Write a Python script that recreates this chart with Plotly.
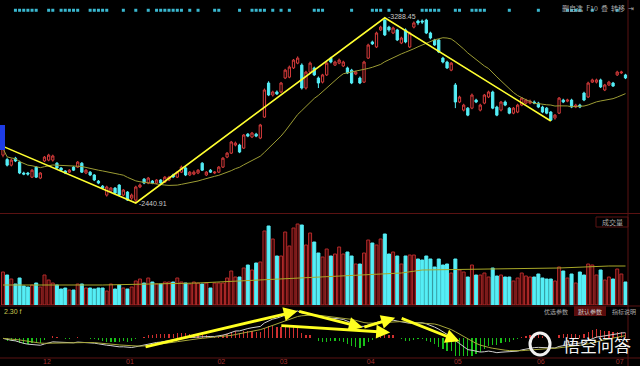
import plotly.graph_objects as go
import pandas as pd
import numpy as np

# ---------------- data ----------------
opens = [2660,2640,2614,2646,2628,2578,2578,2559,2605,2555,
         2633,2637,2637,2623,2601,2587,2582,2605,2605,2623,
         2578,2582,2569,2541,2518,2477,2495,2509,2523,2477,
         2491,2463,2454,2514,2550,2532,2541,2532,2546,2536,
         2546,2569,2559,2582,2601,2569,2573,2578,2623,2569,
         2591,2578,2582,2605,2651,2669,2706,2706,2692,2756,
         2743,2756,2738,2834,2990,2935,2949,2949,3013,3017,
         3059,3081,3072,2967,3040,3059,3013,2994,3027,3104,
         3072,3081,3068,3059,3049,3031,3013,2994,3104,3178,
         3155,3233,3278,3246,3219,3233,3173,3233,3155,3246,
         3274,3274,3278,3219,3187,3187,3104,3086,3049,2981,
         2903,2866,2875,2875,2912,2866,2898,2926,2949,2880,
         2866,2903,2875,2852,2857,2889,2898,2898,2903,2898,
         2880,2875,2857,2830,2852,2912,2907,2912,2880,2889,
         2944,2926,2994,2994,3004,2958,2981,2990,3027,3036,
         3027]
highs = [2700,2648,2645,2652,2635,2584,2583,2596,2610,2582,
         2656,2666,2662,2628,2605,2591,2596,2610,2633,2628,
         2596,2587,2573,2546,2523,2520,2514,2514,2527,2505,
         2495,2484,2520,2530,2555,2560,2546,2550,2550,2564,
         2565,2575,2587,2612,2610,2587,2590,2596,2628,2587,
         2596,2587,2610,2651,2674,2725,2722,2712,2756,2761,
         2766,2762,2803,2965,2998,2955,2956,2995,3055,3070,
         3100,3112,3080,3046,3088,3065,3020,3032,3088,3110,
         3092,3102,3092,3065,3055,3046,3020,3092,3170,3184,
         3225,3252,3288.45,3252,3248,3238,3202,3240,3225,3272,
         3280,3281,3284,3225,3192,3192,3110,3092,3086,2990,
         2932,2895,2880,2942,2918,2895,2940,2955,2955,2886,
         2908,2910,2880,2880,2895,2926,2918,2914,2910,2904,
         2886,2880,2862,2848,2926,2918,2918,2918,2895,2895,
         2950,2996,3010,3010,3010,2986,3000,2995,3046,3046,
         3032]
lows = [2650,2608,2608,2628,2573,2568,2566,2555,2555,2550,
        2628,2632,2630,2596,2587,2573,2578,2587,2601,2578,
        2573,2564,2541,2527,2504,2470,2490,2482,2472,2472,
        2450,2455,2440.91,2509,2527,2527,2527,2527,2527,2532,
        2541,2555,2555,2578,2564,2564,2568,2573,2587,2564,
        2578,2573,2578,2601,2646,2665,2700,2669,2688,2742,
        2738,2742,2733,2830,2930,2928,2935,2944,3008,3012,
        3054,3076,2960,2960,3035,3022,2967,2988,3022,3080,
        3068,3076,3063,3031,2985,3026,2985,2990,3100,3164,
        3150,3228,3205,3225,3214,3182,3168,3172,3150,3240,
        3255,3260,3214,3190,3160,3127,3080,3054,3044,2875,
        2898,2860,2838,2870,2898,2860,2893,2921,2870,2838,
        2860,2884,2847,2847,2852,2884,2893,2893,2893,2875,
        2852,2847,2816,2822,2848,2898,2902,2875,2875,2875,
        2907,2921,2990,2988,2967,2953,2976,2972,3022,3031,
        3008]
closes = [2690,2614,2637,2633,2578,2573,2573,2591,2559,2578,
          2651,2660,2656,2601,2591,2578,2591,2591,2628,2582,
          2591,2569,2546,2532,2509,2514,2509,2486,2477,2500,
          2454,2477,2514,2523,2532,2555,2532,2546,2532,2559,
          2559,2560,2582,2605,2569,2582,2582,2591,2591,2582,
          2582,2582,2605,2646,2669,2720,2715,2674,2752,2747,
          2761,2747,2798,2958,2935,2949,2940,2990,3049,3063,
          3095,3104,2967,3040,3081,3027,2990,3027,3081,3086,
          3086,3095,3086,3036,2990,3040,2990,3086,3164,3169,
          3219,3246,3210,3233,3242,3187,3196,3178,3219,3265,
          3265,3269,3219,3196,3164,3132,3086,3059,3081,2903,
          2926,2889,2843,2935,2903,2889,2935,2949,2875,2843,
          2903,2889,2852,2875,2889,2921,2912,2907,2898,2880,
          2857,2852,2820,2843,2921,2903,2912,2880,2889,2880,
          2912,2990,3004,3004,2972,2981,2994,2976,3040,3040,
          3013]
volumes = [330,300,260,210,270,190,180,200,220,180,
           300,250,220,200,160,170,150,150,210,210,
           170,170,160,170,170,140,210,160,200,170,
           160,180,240,260,220,270,230,210,210,230,
           230,230,270,230,220,210,230,220,210,220,
           170,220,220,220,270,340,280,280,370,400,
           350,420,430,740,790,660,490,490,730,590,
           770,810,800,600,720,630,520,480,560,490,
           510,580,510,530,490,410,410,520,650,620,
           600,660,710,510,530,490,410,490,500,500,
           460,450,490,460,380,460,400,410,320,460,
           350,330,280,400,300,300,320,280,370,290,
           300,280,280,240,270,320,290,280,280,310,
           270,260,260,240,380,340,270,310,220,330,
           300,410,400,300,350,250,280,260,360,310,
           230]
vol_ma_idx = [0, 24, 47, 72, 96, 101, 120, 134, 146, 150]
vol_ma_val = [200, 200, 220, 270, 320, 350, 360, 370, 390, 390]

month_start = [10, 30, 52, 67, 88, 109, 129, 148]
month_labels = ["12", "01", "02", "03", "04", "05", "06", "07"]

signal_dots = [3,4,5,6,7,8, 11,12, 14,15,16,17,18, 21,22,23,24,25, 29, 32, 35,
               37,38,39,40,41,42,43, 45, 47, 51,52, 57, 60,61,62,63, 65, 67, 69,
               75,76,77, 84, 89,90,91, 93, 96, 101,102,103,104,105, 109,110,
               113,114,115,116, 122, 129, 136,137,138,139, 142, 148]

trend_idx = [0, 32, 92, 132]     # turning candles of the hand-drawn trend lines

# ---------------- derived ----------------
n = len(closes)
x = list(range(n))
close_s = pd.Series(closes, dtype=float)
ma20 = close_s.rolling(20, min_periods=1).mean()
ema12 = close_s.ewm(span=12, adjust=False).mean()
ema26 = close_s.ewm(span=26, adjust=False).mean()
dif = ema12 - ema26
dea = dif.ewm(span=9, adjust=False).mean()
hist = 2 * (dif - dea)

trend_y = []
for k, i in enumerate(trend_idx):
    trend_y.append(highs[i] if k % 2 == 0 else lows[i])

RED = "#D83C3C"
CYAN = "#55EEF6"
up = [c >= o for o, c in zip(opens, closes)]

W, H = 640, 366
def py(p):
    return 1 - p / H

fig = go.Figure()

# price panel
fig.add_trace(go.Candlestick(
    x=x, open=opens, high=highs, low=lows, close=closes,
    increasing=dict(line=dict(color=RED, width=1), fillcolor="#000000"),
    decreasing=dict(line=dict(color=CYAN, width=1), fillcolor=CYAN),
    whiskerwidth=0, xaxis="x", yaxis="y", hoverinfo="skip"))
fig.add_trace(go.Scatter(x=x, y=ma20, mode="lines",
                         line=dict(color="#9C9C34", width=1), xaxis="x", yaxis="y"))
fig.add_trace(go.Scatter(x=trend_idx, y=trend_y, mode="lines",
                         line=dict(color="#FFFF30", width=1.6), xaxis="x", yaxis="y"))
fig.add_trace(go.Scatter(x=signal_dots, y=[3323] * len(signal_dots), mode="markers",
                         marker=dict(color="#3AB8D0", size=3, symbol="square"),
                         xaxis="x", yaxis="y"))

# volume panel
fig.add_trace(go.Bar(
    x=x, y=volumes, width=0.72,
    marker=dict(color=["#3A0606" if u else CYAN for u in up],
                line=dict(color=["#B42A2A" if u else CYAN for u in up], width=1)),
    xaxis="x", yaxis="y2"))
fig.add_trace(go.Scatter(x=vol_ma_idx, y=vol_ma_val, mode="lines",
                         line=dict(color="#A8A828", width=1), xaxis="x", yaxis="y2"))

# MACD panel
fig.add_trace(go.Bar(
    x=x, y=hist, width=0.3,
    marker=dict(color=["#D03030" if h >= 0 else "#18C018" for h in hist], line=dict(width=0)),
    xaxis="x", yaxis="y3"))
fig.add_trace(go.Scatter(x=x, y=dif, mode="lines",
                         line=dict(color="#CFCFCF", width=1), xaxis="x", yaxis="y3"))
fig.add_trace(go.Scatter(x=x, y=dea, mode="lines",
                         line=dict(color="#A6A63A", width=1), xaxis="x", yaxis="y3"))

# MACD scale: zero line at pixel 339, DIF peak 28 px above it
s = float(dif.max()) / 28.0
macd_range = [-(357 - 339) * s, (339 - 308) * s]

# yellow hand-drawn arrows (candle index, px above zero line)
arrows = [(34, -9, 71, 28), (71, 28, 86.7, 11), (66.7, 13, 93.3, 6),
          (86.7, 11, 94.5, 21), (95.7, 21, 110, -3)]
annotations = []
for (ti, tp, hi, hp) in arrows:
    annotations.append(dict(x=hi, y=hp * s, ax=ti, ay=tp * s, xref="x", yref="y3",
                            axref="x", ayref="y3", showarrow=True, arrowhead=2,
                            arrowsize=1.0, arrowwidth=2.8, arrowcolor="#FFFF20", text=""))

font_cjk = "Noto Sans CJK SC"
annotations += [
    dict(x=32, y=lows[32], xref="x", yref="y", text="-2440.91", showarrow=False,
         xanchor="left", yanchor="middle", xshift=1, yshift=-1,
         font=dict(size=7, color="#C8C8C8", family="Liberation Sans")),
    dict(x=92, y=highs[92], xref="x", yref="y", text="-3288.45", showarrow=False,
         xanchor="left", yanchor="middle", xshift=1, yshift=1,
         font=dict(size=7, color="#C8C8C8", family="Liberation Sans")),
    dict(x=636 / W, y=py(8), xref="paper", yref="paper", text="删自选  F10  叠  转移  ⇥",
         showarrow=False, xanchor="right", yanchor="middle",
         font=dict(size=7, color="#A8A8A8", family=font_cjk)),
    dict(x=612 / W, y=py(222), xref="paper", yref="paper", text="成交量",
         showarrow=False, xanchor="center", yanchor="middle",
         font=dict(size=7, color="#A8A8A8", family=font_cjk)),
    dict(x=2 / W, y=py(311), xref="paper", yref="paper", text="2.30 f",
         showarrow=False, xanchor="left", yanchor="middle",
         font=dict(size=7, color="#C8C850", family="Liberation Sans")),
    dict(x=556 / W, y=py(311), xref="paper", yref="paper", text="优选参数",
         showarrow=False, xanchor="center", yanchor="middle",
         font=dict(size=6, color="#A8A8A8", family=font_cjk)),
    dict(x=590 / W, y=py(311), xref="paper", yref="paper", text="默认参数",
         showarrow=False, xanchor="center", yanchor="middle",
         font=dict(size=6, color="#C8C8C8", family=font_cjk)),
    dict(x=624 / W, y=py(311), xref="paper", yref="paper", text="指标说明",
         showarrow=False, xanchor="center", yanchor="middle",
         font=dict(size=6, color="#A8A8A8", family=font_cjk)),
    dict(x=597 / W, y=py(344), xref="paper", yref="paper", text="悟空问答",
         showarrow=False, xanchor="center", yanchor="middle",
         font=dict(size=17, color="#F4F4F4", family=font_cjk)),
]

DR = "#5A1212"
shapes = [
    dict(type="line", xref="paper", yref="paper", x0=0, x1=1, y0=py(213.5), y1=py(213.5),
         line=dict(color=DR, width=1)),
    dict(type="line", xref="paper", yref="paper", x0=0, x1=1, y0=py(306), y1=py(306),
         line=dict(color=DR, width=1)),
    dict(type="line", xref="paper", yref="paper", x0=0, x1=1, y0=py(358), y1=py(358),
         line=dict(color=DR, width=1)),
    dict(type="line", xref="paper", yref="paper", x0=628 / W, x1=628 / W, y0=0, y1=1,
         line=dict(color=DR, width=1)),
    dict(type="rect", xref="paper", yref="paper", x0=0, x1=5 / W, y0=py(150), y1=py(125),
         fillcolor="#1E3CE6", line=dict(width=0)),
    dict(type="rect", xref="paper", yref="paper", x0=596 / W, x1=628 / W, y0=py(227), y1=py(217),
         fillcolor="rgba(0,0,0,0)", line=dict(color=DR, width=1)),
    dict(type="rect", xref="paper", yref="paper", x0=574 / W, x1=606 / W, y0=py(316), y1=py(306),
         fillcolor="#5A0C0C", line=dict(width=0)),
    dict(type="circle", xref="paper", yref="paper", x0=530 / W, x1=550 / W, y0=py(355), y1=py(333),
         fillcolor="rgba(0,0,0,0)", line=dict(color="#F0F0F0", width=3)),
]

xr = [-0.72, 150.6]
fig.update_layout(
    width=W, height=H, autosize=False,
    margin=dict(l=0, r=0, t=0, b=0),
    paper_bgcolor="#000000", plot_bgcolor="#000000",
    showlegend=False, bargap=0, boxgap=0.22,
    font=dict(family=font_cjk),
    xaxis=dict(domain=[0, 628 / W], range=xr, anchor="y3", showgrid=False, zeroline=False,
               showline=False, ticks="", tickmode="array",
               tickvals=[m + 0.6 for m in month_start], ticktext=month_labels,
               tickfont=dict(size=7, color="#A03030", family="Liberation Sans"),
               rangeslider=dict(visible=False), fixedrange=True),
    yaxis=dict(domain=[py(213), 1], range=[2395, 3370], showgrid=False, zeroline=False,
               showticklabels=False, fixedrange=True),
    yaxis2=dict(domain=[py(305), py(215)], range=[0, 900], showgrid=False, zeroline=False,
                showticklabels=False, fixedrange=True),
    yaxis3=dict(domain=[py(356), py(308)], range=macd_range, showgrid=False, zeroline=False,
                showticklabels=False, fixedrange=True),
    annotations=annotations,
    shapes=shapes,
)

fig.write_html("out.html", config={"displayModeBar": False, "staticPlot": True})
